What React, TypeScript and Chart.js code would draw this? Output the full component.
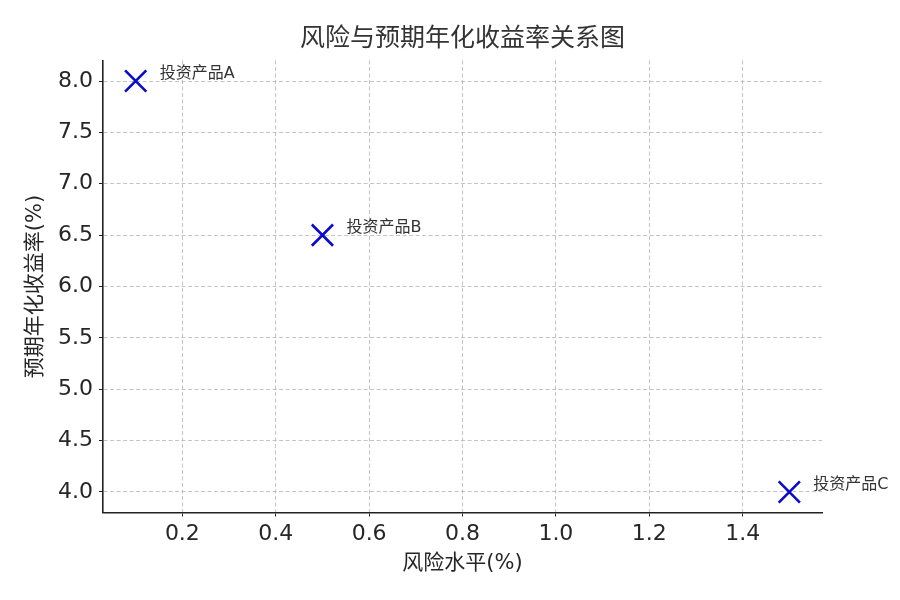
import React, { useEffect, useRef } from "react";
import { Chart, registerables } from "chart.js";

Chart.register(...registerables);

const TITLE = "风险与预期年化收益率关系图";
const X_LABEL = "风险水平(%)";
const Y_LABEL = "预期年化收益率(%)";
const names = ["投资产品A", "投资产品B", "投资产品C"];
const riskValues = [0.1, 0.5, 1.5];
const returnValues = [8.0, 6.5, 4.0];
const xTicks = [0.2, 0.4, 0.6, 0.8, 1.0, 1.2, 1.4];
const yTicks = [4.0, 4.5, 5.0, 5.5, 6.0, 6.5, 7.0, 7.5, 8.0];

const FONT = '"DejaVu Sans", "Noto Sans CJK SC", sans-serif';

const textPlugin = {
  id: "textPlugin",
  afterDraw(chart: any) {
    const { ctx, chartArea, scales } = chart;
    const cx = (chartArea.left + chartArea.right) / 2;
    const cy = (chartArea.top + chartArea.bottom) / 2;
    ctx.save();
    ctx.fillStyle = "#333333";
    ctx.textAlign = "center";
    ctx.textBaseline = "middle";
    ctx.font = `25px ${FONT}`;
    ctx.fillText(TITLE, cx, 39);
    ctx.fillStyle = "#262626";
    ctx.font = `21px ${FONT}`;
    ctx.fillText(X_LABEL, cx, 564);
    ctx.save();
    ctx.translate(36, cy);
    ctx.rotate(-Math.PI / 2);
    ctx.fillText(Y_LABEL, 0, 0);
    ctx.restore();
    ctx.fillStyle = "#333333";
    ctx.font = `16px ${FONT}`;
    ctx.textAlign = "left";
    names.forEach((n, i) => {
      const px = scales.x.getPixelForValue(riskValues[i]);
      const py = scales.y.getPixelForValue(returnValues[i]);
      ctx.fillText(n, px + 24, py - 7);
    });
    ctx.restore();
  },
};

export default function App() {
  const ref = useRef<HTMLCanvasElement | null>(null);
  useEffect(() => {
    if (!ref.current) return;
    const chart = new Chart(ref.current, {
      type: "scatter",
      data: {
        datasets: [
          {
            data: riskValues.map((x, i) => ({ x, y: returnValues[i] })),
            pointStyle: "crossRot",
            pointRadius: 15,
            pointHoverRadius: 15,
            pointBorderWidth: 2.6,
            borderColor: "#0a0acc",
            backgroundColor: "#0a0acc",
          },
        ],
      },
      options: {
        animation: false,
        responsive: false,
        maintainAspectRatio: false,
        events: [],
        layout: { padding: { left: 0, top: 60.5, right: 78, bottom: 0 } },
        plugins: {
          legend: { display: false },
          title: { display: false },
          tooltip: { enabled: false },
        },
        scales: {
          x: {
            type: "linear",
            min: 0.03,
            max: 1.57,
            afterFit(scale: any) {
              scale.height = 87.5;
            },
            afterBuildTicks(scale: any) {
              scale.ticks = xTicks.map((v) => ({ value: v }));
            },
            ticks: {
              color: "#262626",
              font: { family: FONT, size: 22 },
              padding: 5,
              maxRotation: 0,
              callback: (v: any) => Number(v).toFixed(1),
            },
            grid: {
              color: "rgba(176,176,176,0.75)",
              lineWidth: 1,
              tickColor: "#222222",
              tickLength: 4,
              tickBorderDash: [],
              drawOnChartArea: true,
            },
            border: { display: true, color: "#222222", width: 1.6, dash: [4, 2.5] as any },
          },
          y: {
            type: "linear",
            min: 3.8,
            max: 8.2,
            afterFit(scale: any) {
              scale.width = 103;
            },
            afterBuildTicks(scale: any) {
              scale.ticks = yTicks.map((v) => ({ value: v }));
            },
            ticks: {
              color: "#262626",
              font: { family: FONT, size: 22 },
              padding: 6,
              callback: (v: any) => Number(v).toFixed(1),
            },
            grid: {
              color: "rgba(176,176,176,0.75)",
              lineWidth: 1,
              tickColor: "#222222",
              tickLength: 4,
              tickBorderDash: [],
            },
            border: { display: true, color: "#222222", width: 1.6, dash: [4, 2.5] as any },
          },
        },
      } as any,
      plugins: [textPlugin],
    });
    return () => chart.destroy();
  }, []);
  return (
    <div style={{ position: "fixed", left: 0, top: 0, width: 900, height: 600, background: "#fff" }}>
      <canvas ref={ref} width={900} height={600} style={{ width: 900, height: 600 }} />
    </div>
  );
}
